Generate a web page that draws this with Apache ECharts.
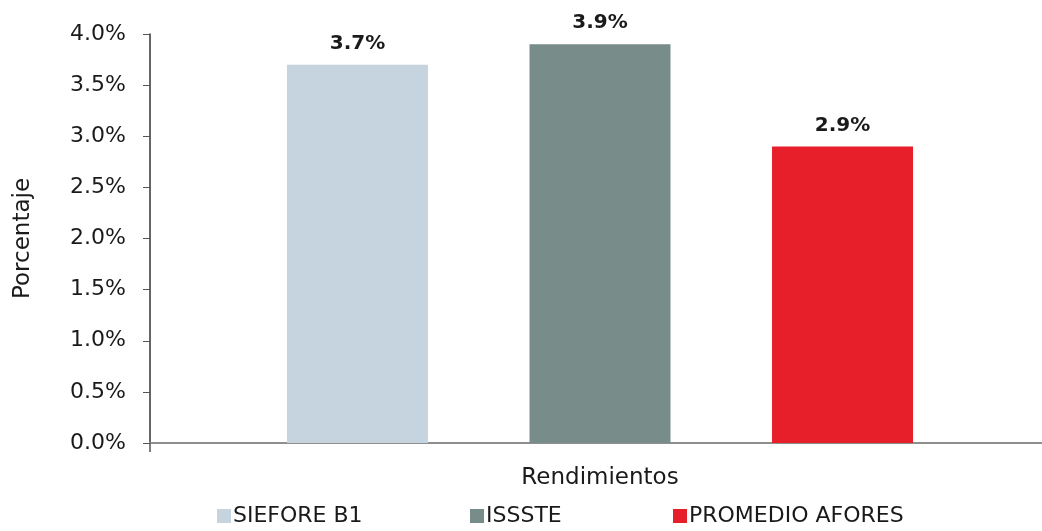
<!DOCTYPE html>
<html>
<head>
<meta charset="utf-8">
<style>
  html, body { margin: 0; padding: 0; background: #ffffff; }
  #chart { width: 1042px; height: 531px; }
</style>
<script src="https://cdn.jsdelivr.net/npm/echarts@6/dist/echarts.min.js"></script>
</head>
<body>
<div id="chart"></div>
<script>
// Rendimientos por tipo de fondo (porcentaje)
const categories = ['Rendimientos'];
const seriesNames = ['SIEFORE B1', 'ISSSTE', 'PROMEDIO AFORES'];
const seriesValues = [[3.7], [3.9], [2.9]];
const seriesColors = ['#c6d4df', '#788d8a', '#e61f2a'];
const yMin = 0, yMax = 4, yStep = 0.5;

const font = '"DejaVu Sans", sans-serif';
const ink = '#1a1a1a';
const legendLeft = [212, 465, 668];

const chart = echarts.init(document.getElementById('chart'));

chart.setOption({
  backgroundColor: '#ffffff',
  animation: false,
  // the plot area runs past the right edge of the canvas
  grid: { left: 150, top: 34, right: -8, bottom: 88, containLabel: false, outerBoundsMode: 'none' },
  // one legend block per series so each entry sits at its own spot
  legend: seriesNames.map((name, i) => ({
    bottom: -1,
    left: legendLeft[i],
    itemWidth: 14,
    itemHeight: 14,
    icon: 'rect',
    textStyle: { fontFamily: font, fontSize: 22, color: ink, padding: [0, 0, 0, -3] },
    data: [name]
  })),
  xAxis: {
    type: 'category',
    data: categories,
    axisLine: { lineStyle: { color: '#8f8f8f', width: 2 } },
    axisTick: { show: true, length: 9, lineStyle: { color: '#555555', width: 1.5 } },
    axisLabel: { fontFamily: font, fontSize: 23, color: ink, margin: 24 }
  },
  yAxis: {
    type: 'value',
    min: yMin,
    max: yMax,
    interval: yStep,
    name: 'Porcentaje',
    nameLocation: 'middle',
    nameGap: 115,
    nameTextStyle: { fontFamily: font, fontSize: 23, color: ink },
    axisLine: { show: true, lineStyle: { color: '#333333', width: 1.5 } },
    axisTick: { show: true, length: 7, lineStyle: { color: '#555555' } },
    splitLine: { show: false },
    axisLabel: {
      fontFamily: font, fontSize: 22, color: ink, margin: 24,
      formatter: v => v.toFixed(1) + '%'
    }
  },
  series: seriesNames.map((name, i) => ({
    name,
    type: 'bar',
    data: seriesValues[i],
    barWidth: 141,
    barGap: '72%',
    itemStyle: { color: seriesColors[i] },
    label: {
      show: true,
      position: 'top',
      distance: 11,
      fontFamily: font,
      fontSize: 20,
      fontWeight: 'bold',
      color: ink,
      formatter: p => p.value.toFixed(1) + '%'
    }
  }))
});
</script>
</body>
</html>
